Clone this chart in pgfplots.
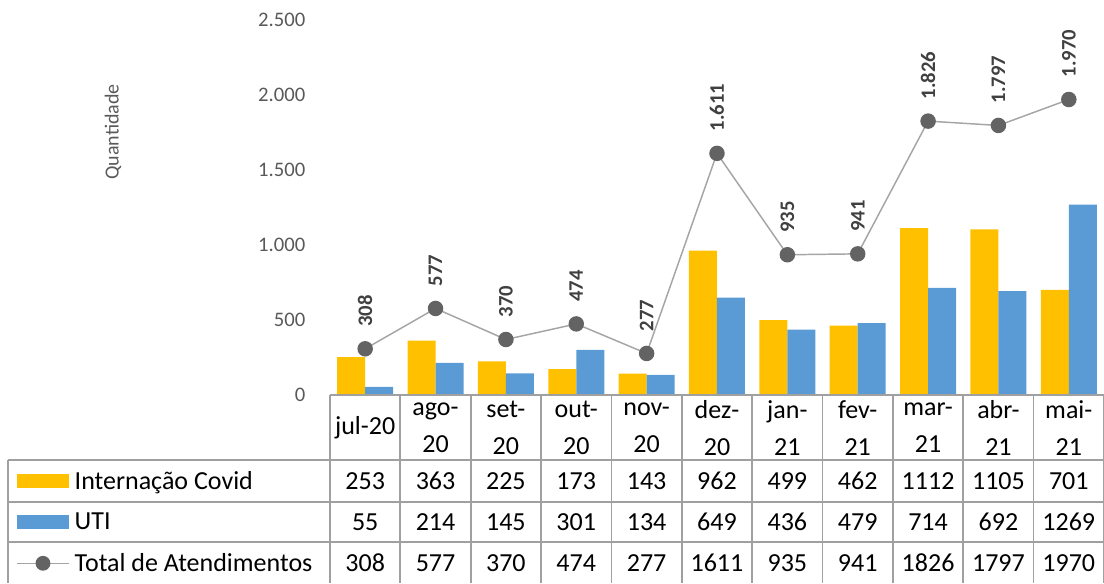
\documentclass[border=0pt]{standalone}
\usepackage{pgfplots}
\pgfplotsset{compat=1.18}
\usepackage{fontspec}
\setmainfont{Carlito}
\definecolor{cY}{HTML}{FFC000}
\definecolor{cB}{HTML}{5B9BD5}
\definecolor{cL}{HTML}{A5A5A5}
\definecolor{cM}{HTML}{636363}
\definecolor{cT}{HTML}{595959}
\definecolor{cG}{HTML}{A0A0A0}
\definecolor{cD}{HTML}{404040}
\begin{document}
\begin{tikzpicture}
\path[use as bounding box] (-247.5pt,-141pt) rectangle (580.5pt,296.25pt);
\begin{axis}[
  at={(0pt,0pt)}, anchor=south west,
  scale only axis, width=580.5pt, height=281.25pt,
  xmin=-0.5, xmax=10.5, ymin=0, ymax=2500,
  axis line style={draw=none}, tick style={draw=none},
  major tick length=0pt,
  clip=false,
  xtick={0,...,10},
  xticklabels={jul-20,ago-\\20,set-\\20,out-\\20,nov-\\20,dez-\\20,jan-\\21,fev-\\21,mar-\\21,abr-\\21,mai-\\21},
  ytick={0,500,...,2500},
  /pgf/number format/1000 sep={.},
  /pgf/number format/assume math mode=true,
  yticklabel style={font=\fontsize{15.5}{18}\selectfont, text=cT, anchor=east, xshift=-15pt},
  xticklabel style={font=\fontsize{19.5}{27.75}\selectfont, align=center, anchor=center, yshift=-24.75pt},
  legend style={at={(axis description cs:-0.4057,-0.1747)}, anchor=north west, draw=none, fill=none,
    font=\fontsize{19.5}{22}\selectfont, row sep=0pt, column sep=3.75pt, inner sep=0pt,
    nodes={inner sep=0pt, minimum height=30.75pt}},
  legend cell align=left,
]
\addplot[ybar, bar width=21pt, bar shift=-10.5pt, fill=cY, draw=none,
  legend image code/.code={\fill[cY] (0pt,-5.25pt) rectangle (39pt,5.25pt);}]
  coordinates {(0,253) (1,363) (2,225) (3,173) (4,143) (5,962) (6,499) (7,462) (8,1112) (9,1105) (10,701)};
\addlegendentry{Internação Covid}
\addplot[ybar, bar width=21pt, bar shift=10.5pt, fill=cB, draw=none,
  legend image code/.code={\fill[cB] (0pt,-5.25pt) rectangle (39pt,5.25pt);}]
  coordinates {(0,55) (1,214) (2,145) (3,301) (4,134) (5,649) (6,436) (7,479) (8,714) (9,692) (10,1269)};
\addlegendentry{UTI}
\addplot[color=cL, line width=1.1pt, mark=*, mark size=5.25pt, mark options={fill=cM, draw=cM},
  nodes near coords,
  every node near coord/.append style={rotate=90, anchor=west, inner sep=0pt, xshift=16pt,
    font=\fontsize{15.5}{18}\selectfont\bfseries, text=cD},
  legend image code/.code={\draw[cL, line width=1.1pt] (0pt,0pt) -- (39pt,0pt); \fill[cM] (19.5pt,0pt) circle (5pt);}]
  coordinates {(0,308) (1,577) (2,370) (3,474) (4,277) (5,1611) (6,935) (7,941) (8,1826) (9,1797) (10,1970)};
\addlegendentry{Total de Atendimentos}
\end{axis}
\begin{scope}[x=0.75pt, y=-0.75pt, shift={(-247.5pt,296.25pt)}]
  \node[rotate=90, text=cT, font=\fontsize{15}{18}\selectfont] at (113,132) {Quantidade};
  \draw[cG, line width=1.3pt] (330,395) -- (1104,395);
  \foreach \y in {460,502,542} \draw[cG, line width=1.3pt] (8,\y) -- (1104,\y);
  \draw[cG, line width=1.3pt] (8,460) -- (8,583);
  \foreach \k in {0,...,11} \draw[cG, line width=1.3pt] ({330+70.36*\k},395) -- ({330+70.36*\k},583);
  \foreach \v [count=\i from 0] in {253,363,225,173,143,962,499,462,1112,1105,701}
    \node[anchor=base, font=\fontsize{19.5}{22}\selectfont, inner sep=0pt] at ({330+70.36*(\i+0.5)},489) {\v};
  \foreach \v [count=\i from 0] in {55,214,145,301,134,649,436,479,714,692,1269}
    \node[anchor=base, font=\fontsize{19.5}{22}\selectfont, inner sep=0pt] at ({330+70.36*(\i+0.5)},530) {\v};
  \foreach \v [count=\i from 0] in {308,577,370,474,277,1611,935,941,1826,1797,1970}
    \node[anchor=base, font=\fontsize{19.5}{22}\selectfont, inner sep=0pt] at ({330+70.36*(\i+0.5)},571) {\v};
\end{scope}
\end{tikzpicture}
\end{document}
